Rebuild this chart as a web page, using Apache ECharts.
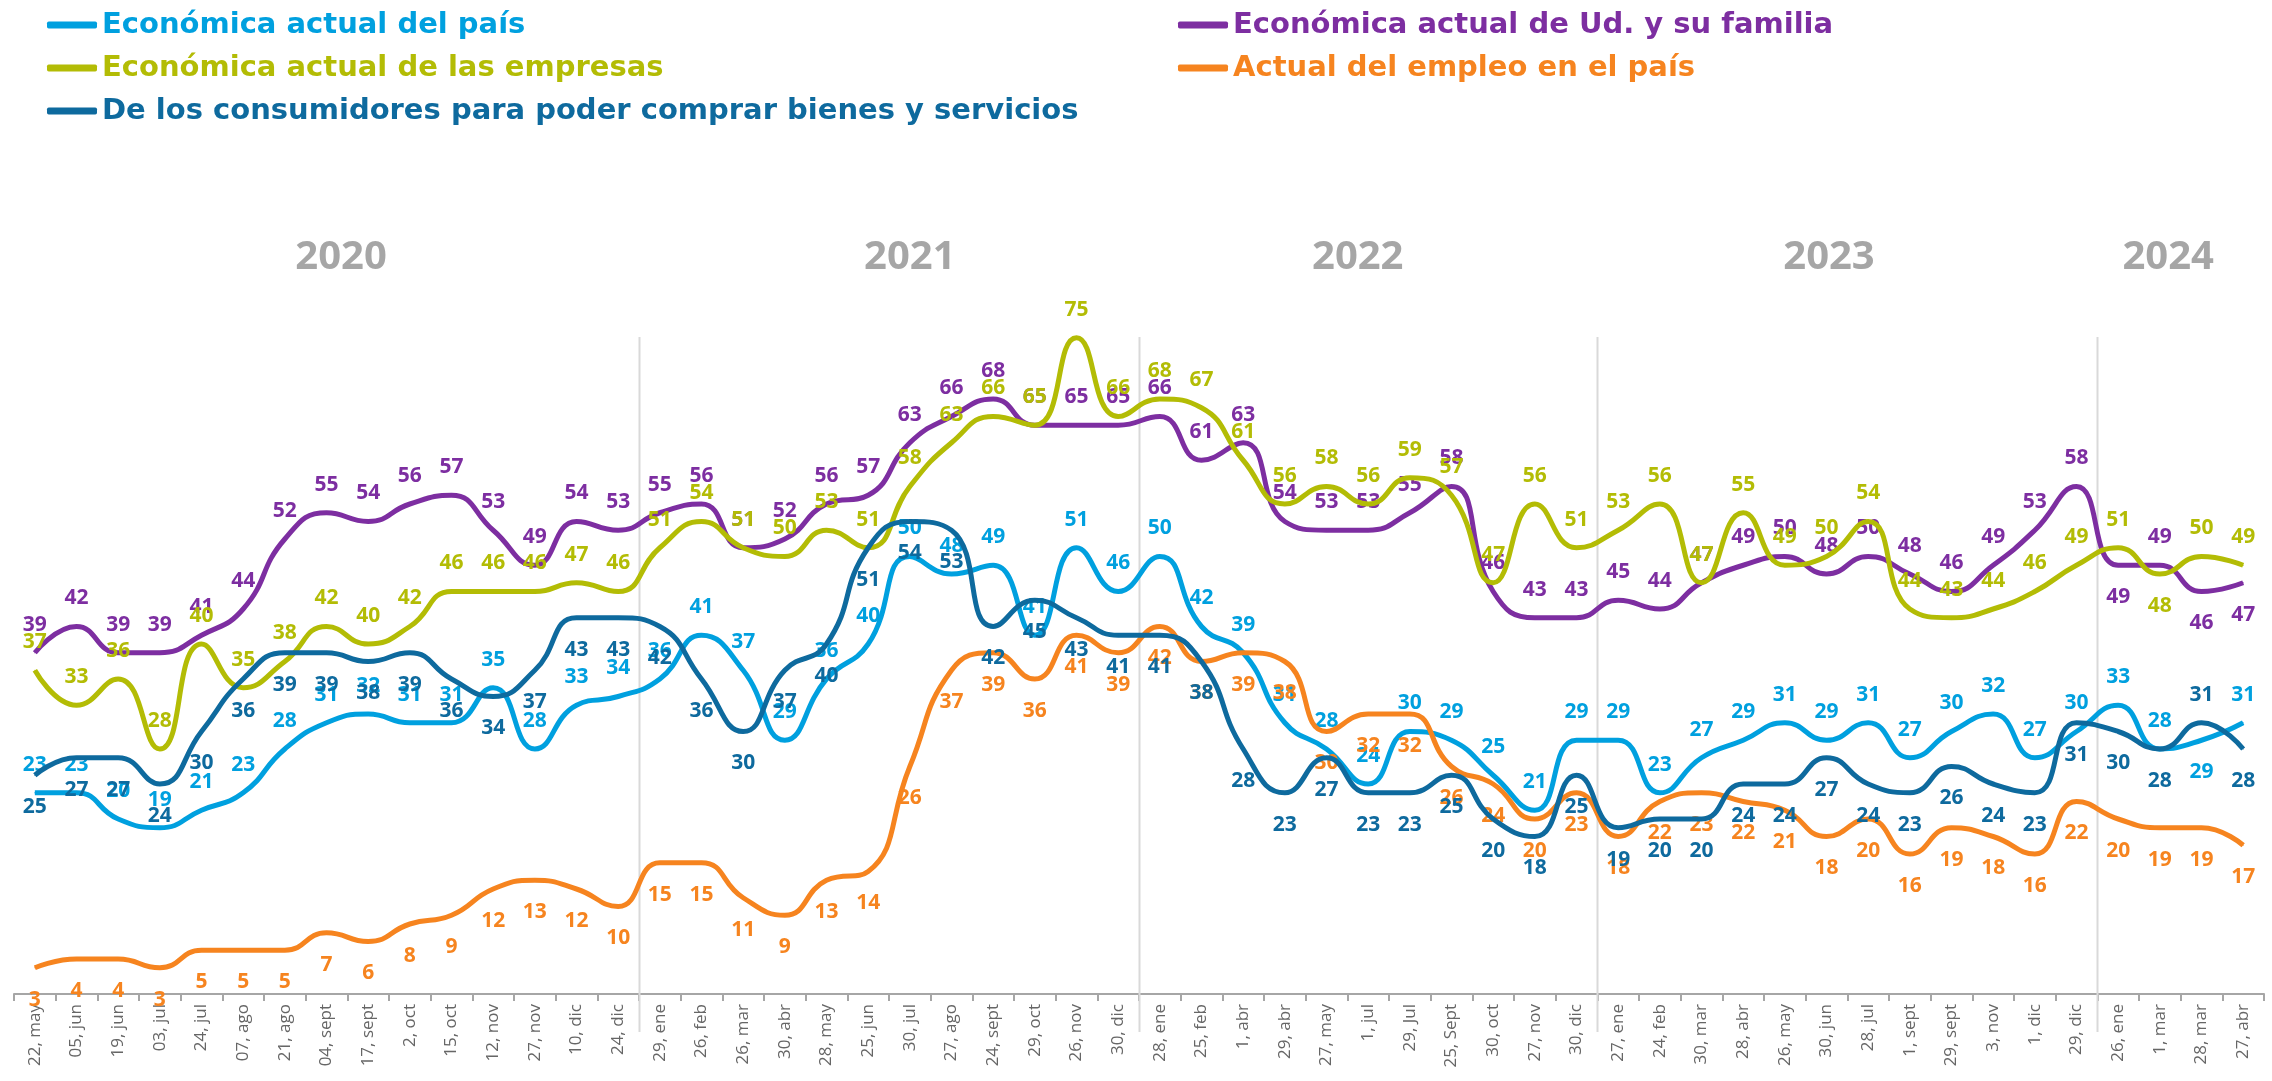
<!DOCTYPE html>
<html>
<head>
<meta charset="utf-8">
<script src="https://cdn.jsdelivr.net/npm/echarts@6/dist/echarts.min.js"></script>
<style>
html,body{margin:0;padding:0;background:#fff;}
#chart{width:2272px;height:1081px;}
</style>
</head>
<body>
<div id="chart"></div>
<script>
const categories = ['22, may','05, jun','19, jun','03, jul','24, jul','07, ago','21, ago','04, sept','17, sept','2, oct','15, oct','12, nov','27, nov','10, dic','24, dic',
  '29, ene','26, feb','26, mar','30, abr','28, may','25, jun','30, jul','27, ago','24, sept','29, oct','26, nov','30, dic',
  '28, ene','25, feb','1, abr','29, abr','27, may','1, jul','29, Jul','25, Sept','30, oct','27, nov','30, dic',
  '27, ene','24, feb','30, mar','28, abr','26, may','30, jun','28, jul','1, sept','29, sept','3, nov','1, dic','29, dic',
  '26, ene','1, mar','28, mar','27, abr'];

const pais = [23,23,20,19,21,23,28,31,32,31,31,35,28,33,34,
  36,41,37,29,36,40,50,48,49,41,51,46,
  50,42,39,31,28,24,30,29,25,21,29,
  29,23,27,29,31,29,31,27,30,32,27,30,33,28,29,31];
const familia = [39,42,39,39,41,44,52,55,54,56,57,53,49,54,53,
  55,56,51,52,56,57,63,66,68,65,65,65,
  66,61,63,54,53,53,55,58,46,43,43,
  45,44,47,49,50,48,50,48,46,49,53,58,49,49,46,47];
const empresas = [37,33,36,28,40,35,38,42,40,42,46,46,46,47,46,
  51,54,51,50,53,51,58,63,66,65,75,66,
  68,67,61,56,58,56,59,57,47,56,51,
  53,56,47,55,49,50,54,44,43,44,46,49,51,48,50,49];
const empleo = [3,4,4,3,5,5,5,7,6,8,9,12,13,12,10,
  15,15,11,9,13,14,26,37,39,36,41,39,
  42,38,39,38,30,32,32,26,24,20,23,
  18,22,23,22,21,18,20,16,19,18,16,22,20,19,19,17];
const consumidores = [25,27,27,24,30,36,39,39,38,39,36,34,37,43,43,
  42,36,30,37,40,51,54,53,42,45,43,41,
  41,38,28,23,27,23,23,25,20,18,25,
  19,20,20,24,24,27,24,23,26,24,23,31,30,28,31,28];

const years = ['2020','2021','2022','2023','2024'];
const yearBoundaries = [15,27,38,50];

const names = ['Económica actual del país','Económica actual de Ud. y su familia','Económica actual de las empresas','Actual del empleo en el país','De los consumidores para poder comprar bienes y servicios'];
const colors = ['#00A0DF','#7D2EA1','#B3BC05','#F6841F','#0E6A9E'];

// label placement (style): default side and exceptions
const labelSide = ['top','top','top','bottom','bottom'];
const labelFlip = [[52],[50,52,53],[51],[],[52]];

const FONT = '"Open Sans", "Noto Sans", sans-serif';
const LFONT = '"DejaVu Sans", "Open Sans", sans-serif';

function buildData(vals, si){
  return vals.map((v,i)=>{
    if(labelFlip[si].indexOf(i) >= 0){
      const pos = labelSide[si]==='top' ? 'bottom' : 'top';
      return {value:v, label:{position:pos, distance: pos==='top'?17:21}};
    }
    return v;
  });
}

const allVals = [pais,familia,empresas,empleo,consumidores];
const series = allVals.map((vals,si)=>({
  name: names[si],
  type:'line',
  data: buildData(vals, si),
  smooth: 0.5,
  symbol:'circle',
  symbolSize:1,
  showSymbol:true,
  lineStyle:{color:colors[si], width:5},
  itemStyle:{color:colors[si]},
  label:{show:true, position:labelSide[si], distance: labelSide[si]==='top'?17:21,
    color:colors[si], fontFamily:FONT, fontWeight:'bold', fontSize:21},
  emphasis:{disabled:true},
  z: 2+si
}));

const chart = echarts.init(document.getElementById('chart'), null, {renderer:'canvas'});
const GL = 14, GR = 8, GT = 294, GB = 87;

function legendItem(i){
  return {name:names[i], icon:'roundRect', itemStyle:{color:colors[i]}, textStyle:{color:colors[i]}};
}

chart.setOption({
  animation:false,
  backgroundColor:'#ffffff',
  grid:{left:GL, right:GR, top:GT, bottom:GB, containLabel:false},
  legend:[
    {orient:'vertical', left:42, top:5, itemWidth:50, itemHeight:7, itemGap:13,
     data:[legendItem(0), legendItem(2), legendItem(4)],
     textStyle:{fontFamily:LFONT, fontWeight:'bold', fontSize:29, lineHeight:30}, selectedMode:false},
    {orient:'vertical', left:1173, top:5, itemWidth:50, itemHeight:7, itemGap:13,
     data:[legendItem(1), legendItem(3)],
     textStyle:{fontFamily:LFONT, fontWeight:'bold', fontSize:29, lineHeight:30}, selectedMode:false}
  ],
  xAxis:{
    type:'category', data:categories, boundaryGap:true,
    axisLine:{lineStyle:{color:'#A6A6A6', width:2}},
    axisTick:{show:true, alignWithLabel:false, length:7, lineStyle:{color:'#A6A6A6', width:2}},
    axisLabel:{rotate:90, interval:0, margin:10, color:'#666666', fontFamily:FONT, fontSize:17},
    splitLine:{show:false}
  },
  yAxis:{type:'value', min:0, max:80, show:false, splitLine:{show:false}},
  series: series
});

// year separators and year titles
const p0 = chart.convertToPixel({xAxisIndex:0}, 0);
const p1 = chart.convertToPixel({xAxisIndex:0}, 1);
const w = p1 - p0;
const left0 = p0 - w/2;
const yearPos = [7.85, 21.5, 32.25, 43.56, 51.7];
const graphics = [];
yearBoundaries.forEach(b=>{
  const x = Math.round(left0 + b*w) + 0.5;
  graphics.push({type:'line', silent:true, z:1, shape:{x1:x, y1:337, x2:x, y2:1032}, style:{stroke:'#D9D9D9', lineWidth:2}});
});
years.forEach((t,i)=>{
  graphics.push({type:'text', silent:true, x: left0 + yearPos[i]*w, y:258,
    style:{text:t, fill:'#A6A6A6', font:'bold 40px ' + FONT, textAlign:'center', textVerticalAlign:'middle'}});
});
chart.setOption({graphic: graphics});
</script>
</body>
</html>
